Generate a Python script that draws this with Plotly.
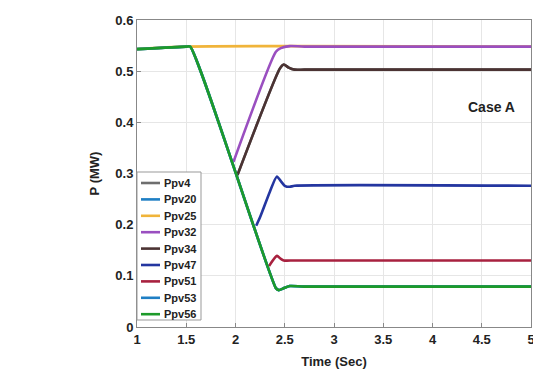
import plotly.graph_objects as go

# ---- data ----
t_56 = [1.0, 1.5, 1.54, 2.41, 2.44, 2.48, 2.55, 2.7, 5.0]
p_56 = [0.543, 0.548, 0.548, 0.076, 0.072, 0.075, 0.080, 0.079, 0.079]

t_25 = [1.0, 1.5, 5.0]
p_25 = [0.543, 0.548, 0.548]

t_32 = [1.98, 2.41, 2.46, 2.55, 2.7, 5.0]
p_32 = [0.323, 0.538, 0.545, 0.549, 0.548, 0.548]

t_34 = [2.02, 2.45, 2.49, 2.54, 2.60, 2.7, 5.0]
p_34 = [0.297, 0.505, 0.513, 0.507, 0.503, 0.503, 0.503]

t_47 = [2.21, 2.25, 2.35, 2.42, 2.46, 2.5, 2.55, 2.6, 5.0]
p_47 = [0.198, 0.215, 0.265, 0.294, 0.285, 0.276, 0.274, 0.276, 0.276]

t_51 = [2.34, 2.42, 2.46, 2.49, 2.6, 5.0]
p_51 = [0.119, 0.139, 0.133, 0.130, 0.130, 0.130]

# series hidden beneath others
t_4, p_4 = t_34, p_34
t_20, p_20 = t_56, p_56
t_53, p_53 = t_56, p_56

series = [
    ("Ppv4", t_4, p_4, "#6e6e6e"),
    ("Ppv20", t_20, p_20, "#1f7fc4"),
    ("Ppv25", t_25, p_25, "#f0b43a"),
    ("Ppv32", t_32, p_32, "#9a4fc0"),
    ("Ppv34", t_34, p_34, "#4b3333"),
    ("Ppv47", t_47, p_47, "#2436a0"),
    ("Ppv51", t_51, p_51, "#a8213f"),
    ("Ppv53", t_53, p_53, "#1f7fc4"),
    ("Ppv56", t_56, p_56, "#1d9a2a"),
]

x_ticks = [1, 1.5, 2, 2.5, 3, 3.5, 4, 4.5, 5]
y_ticks = [0, 0.1, 0.2, 0.3, 0.4, 0.5, 0.6]

fig = go.Figure()
for name, t, p, c in series:
    fig.add_trace(go.Scatter(x=t, y=p, mode="lines", name=name, showlegend=False,
                             line=dict(color=c, width=2.6, shape="spline", smoothing=0.6)))

# compact legend drawn in paper coordinates (plot area: 394 x 307 px)
W, H = 394.0, 307.0
shapes = [dict(type="rect", xref="paper", yref="paper",
               x0=0.0, x1=64 / W, y0=7 / H, y1=155 / H,
               line=dict(color="#999", width=1), fillcolor="white", layer="above")]
annotations = []
for i, (name, _, _, c) in enumerate(series):
    yc = (155 - 11 - 16.4 * i) / H
    shapes.append(dict(type="line", xref="paper", yref="paper",
                       x0=4 / W, x1=23 / W, y0=yc, y1=yc,
                       line=dict(color=c, width=2.6), layer="above"))
    annotations.append(dict(x=25 / W, y=yc, xref="paper", yref="paper", text=f"<b>{name}</b>",
                            xanchor="left", yanchor="middle", showarrow=False,
                            font=dict(size=11, color="#222")))
annotations.append(dict(x=4.6, y=0.43, xref="x", yref="y", text="<b>Case A</b>",
                        showarrow=False, font=dict(size=14, color="#222")))

font = dict(family="Arial, Liberation Sans", size=13, color="#222")
fig.update_layout(
    width=533, height=369,
    margin=dict(l=137, r=2, t=20, b=42),
    paper_bgcolor="white", plot_bgcolor="white",
    font=font,
    showlegend=False,
    shapes=shapes,
    annotations=annotations,
)
fig.update_xaxes(range=[1, 5], tickvals=x_ticks, ticktext=[f"<b>{v:g}</b>" for v in x_ticks],
                 ticklabeloverflow="allow", automargin=False,
                 showgrid=True, gridcolor="#e6e6e6", zeroline=False,
                 showline=True, linecolor="#888", mirror=True, ticks="inside", ticklen=4, tickcolor="#888",
                 title=dict(text="<b>Time (Sec)</b>", standoff=12, font=dict(size=13)))
fig.update_yaxes(range=[0, 0.6], tickvals=y_ticks, ticktext=[f"<b>{v:g}</b>" for v in y_ticks],
                 automargin=False,
                 showgrid=True, gridcolor="#e6e6e6", zeroline=False,
                 showline=True, linecolor="#888", mirror=True, ticks="inside", ticklen=4, tickcolor="#888",
                 title=dict(text="<b>P (MW)</b>", standoff=12, font=dict(size=13)))

fig.write_html("out.html")
